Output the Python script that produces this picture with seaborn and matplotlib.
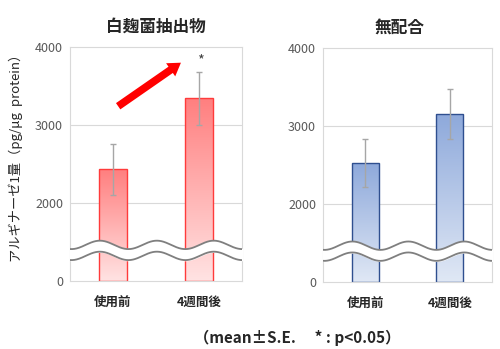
import numpy as np
import pandas as pd
import matplotlib
matplotlib.use("Agg")
import matplotlib.pyplot as plt
import seaborn as sns
from matplotlib.colors import LinearSegmentedColormap

sns.set_theme(style="white")
plt.rcParams['font.family'] = ['Noto Sans CJK JP', 'DejaVu Sans']

# ---- data ----
timepoints = ["使用前", "4週間後"]
panel_titles = ["白麹菌抽出物", "無配合"]
means_koji = [2430, 3340]
se_koji = [330, 340]
means_ctrl = [2520, 3150]
se_ctrl = [310, 320]
yticks = [0, 2000, 3000, 4000]
ylabel = "アルギナーゼ1量（pg/μg  protein）"
note = "（mean±S.E.　 * : p<0.05）"

# broken-axis scale: 0-2000 compressed into one tick interval
def fwd(v):
    v = np.asarray(v, dtype=float)
    return np.where(v <= 2000, v / 2000.0, v / 1000.0 - 1.0)

def inv(p):
    p = np.asarray(p, dtype=float)
    return np.where(p <= 1, p * 2000.0, (p + 1.0) * 1000.0)

fig = plt.figure(figsize=(5.0, 3.49), dpi=100)
ax1 = fig.add_axes([0.140, 0.195, 0.344, 0.671])
ax2 = fig.add_axes([0.646, 0.193, 0.338, 0.669])

specs = [
    (ax1, means_koji, se_koji, panel_titles[0], 0.5, "#FF3B3B", ("#FF7F7F", "#FFE3E3")),
    (ax2, means_ctrl, se_ctrl, panel_titles[1], 0.45, "#2F4F8F", ("#8EA9DB", "#E0E8F5")),
]

for ax, means, ses, title, tx, edge, (ctop, cbot) in specs:
    df = pd.DataFrame({"t": timepoints, "v": means})
    sns.barplot(data=df, x="t", y="v", ax=ax, errorbar=None, width=0.32,
                color=ctop, edgecolor=edge, linewidth=1.0, zorder=2)
    ax.set_yscale("function", functions=(fwd, inv))
    ax.set_ylim(0, 4000)
    ax.set_xlim(-0.5, 1.5)
    ax.set_yticks(yticks)
    ax.set_yticklabels([str(t) for t in yticks])
    ax.yaxis.set_minor_locator(matplotlib.ticker.NullLocator())
    ax.set_xlabel("")
    ax.set_ylabel("")
    # gridlines
    for g in [2000, 3000]:
        ax.axhline(g, color="#D9D9D9", lw=0.8, zorder=0)
    for s in ax.spines.values():
        s.set_color("#D9D9D9")
        s.set_linewidth(0.8)
    ax.tick_params(axis="y", labelsize=9, colors="#595959", length=0, pad=5)
    ax.tick_params(axis="x", labelsize=9, length=0, pad=11)
    for lab in ax.get_xticklabels():
        lab.set_fontweight("bold")
    ax.set_title(title, fontsize=12, fontweight="bold", pad=11, x=tx)

    # gradient fill per bar
    cmap = LinearSegmentedColormap.from_list("g", [cbot, ctop])
    grad = np.linspace(0, 1, 256).reshape(-1, 1)
    tr = ax.transScale + ax.transLimits
    for p in list(ax.patches):
        x0, y0 = p.get_x(), p.get_y()
        x1, y1 = x0 + p.get_width(), y0 + p.get_height()
        (ax0, ay0), (ax1_, ay1) = tr.transform([(x0, y0), (x1, y1)])
        im = ax.imshow(grad, cmap=cmap, origin="lower", aspect="auto",
                       extent=(ax0, ax1_, ay0, ay1), transform=ax.transAxes,
                       zorder=1.5, interpolation="bilinear")
        im.set_clip_path(p)
        p.set_facecolor("none")
    ax.set_xlim(-0.5, 1.5)
    ax.set_ylim(0, 4000)

    # error bars
    ax.errorbar(range(len(means)), means, yerr=ses, fmt="none",
                ecolor="#A6A6A6", elinewidth=1.0, capsize=2.5, capthick=1.0, zorder=3)

    # wavy break marks (axes coordinates)
    xs = np.linspace(0, 1, 400)
    phase = np.cos(2 * np.pi * (xs - 0.174) / 0.331)
    up = 0.154 + 0.018 * phase
    lo = 0.107 + 0.018 * phase
    ax.fill_between(xs, lo, up, color="white", transform=ax.transAxes, zorder=4)
    ax.plot(xs, up, color="#7F7F7F", lw=1.3, transform=ax.transAxes, zorder=5)
    ax.plot(xs, lo, color="#7F7F7F", lw=1.3, transform=ax.transAxes, zorder=5)

# significance mark and arrow on left panel
ax1.text(1.02, 3830, "*", ha="center", va="center", fontsize=10.5, color="#404040")
ax1.annotate("", xy=(0.645, 0.932), xytext=(0.28, 0.746),
             xycoords="axes fraction", textcoords="axes fraction",
             arrowprops=dict(arrowstyle="simple,head_length=0.9,head_width=1.15,tail_width=0.55",
                             color="#FF0000", lw=0, shrinkA=0, shrinkB=0,
                             mutation_scale=10), zorder=6)

fig.text(0.032, 0.555, ylabel, rotation=90, ha="center", va="center", fontsize=9.5)
fig.text(0.595, 0.032, note, ha="center", va="center", fontsize=11, fontweight="bold")

fig.savefig("out.png", dpi=100)
